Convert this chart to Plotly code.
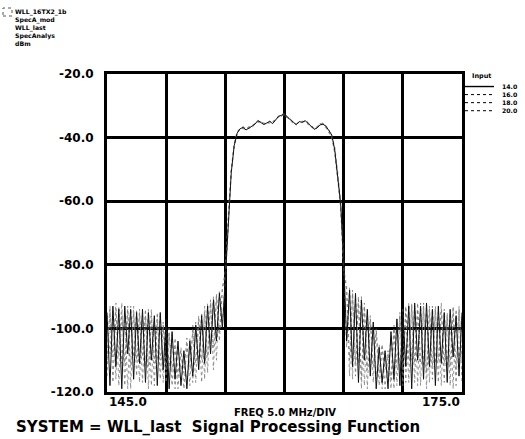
import plotly.graph_objects as go

# ---------------- data ----------------
FREQ_START = 145.0   # MHz
FREQ_STEP = 0.25     # MHz per sample
FREQ = [FREQ_START + FREQ_STEP * i for i in range(121)]

SERIES_NAMES = ["14.0", "16.0", "18.0", "20.0"]

# each series = left sidelobes (145.0-154.75) + passband/skirts (155.0-165.0) + right sidelobes (165.25-175.0)
IN_14_LEFT = [-95, -118, -93, -112, -94, -119, -93, -108, -94, -116, -95, -111, -94, -117, -95, -110,
              -96, -118, -95, -113, -97, -119, -101, -116, -104, -118, -107, -119, -104, -115, -99, -113,
              -96, -111, -93, -108, -91, -104, -89, -100]
IN_14_PASS = [-84, -66, -51, -42.5, -38.6, -37.2, -36.8, -37.6, -37.0, -36.6, -35.8, -34.6, -35.3, -35.9,
              -35.4, -34.9, -35.6, -34.4, -33.3, -33.0, -32.4, -33.6, -34.5, -35.2, -35.9, -35.0, -35.2,
              -34.7, -35.5, -36.3, -37.4, -37.0, -36.0, -35.8, -36.4, -37.8, -39.2, -44, -52, -61, -79]
IN_14_RIGHT = [-104, -88, -112, -89, -117, -91, -110, -94, -115, -98, -119, -106, -117, -107, -119, -101,
               -116, -97, -118, -95, -112, -93, -119, -92, -110, -93, -116, -92, -112, -94, -118, -93,
               -111, -95, -117, -94, -109, -96, -115, -95]

IN_16_LEFT = [-110, -93, -117, -94, -109, -92, -118, -94, -112, -93, -115, -95, -109, -94, -119, -96,
              -111, -95, -116, -98, -113, -100, -118, -103, -115, -106, -119, -105, -112, -101, -117, -97,
              -110, -95, -114, -92, -106, -90, -101, -88]
IN_16_PASS = [-83, -64, -50, -42, -38.3, -37.5, -36.5, -37.2, -36.8, -36.2, -35.5, -34.9, -35.6, -35.4,
              -35.8, -35.1, -35.3, -34.0, -33.6, -32.8, -32.9, -33.2, -34.8, -35.5, -35.6, -35.3, -34.8,
              -35.1, -35.9, -36.1, -37.0, -36.6, -35.6, -35.4, -36.9, -38.2, -40, -45, -53, -62, -81]
IN_16_RIGHT = [-87, -110, -89, -115, -90, -119, -92, -113, -96, -117, -100, -114, -105, -119, -108, -116,
               -100, -118, -96, -113, -94, -117, -92, -111, -94, -118, -92, -114, -93, -116, -94, -110,
               -92, -117, -95, -112, -94, -118, -93, -110]

IN_18_LEFT = [-96, -108, -94, -116, -93, -111, -95, -119, -93, -109, -94, -117, -96, -112, -94, -118,
              -97, -110, -96, -117, -99, -112, -102, -119, -106, -113, -108, -118, -103, -117, -98, -110,
              -95, -116, -92, -105, -90, -110, -88, -98]
IN_18_PASS = [-85, -67, -51, -43, -38.8, -37.0, -37.1, -37.4, -36.5, -36.8, -35.9, -35.0, -34.8, -35.6,
              -35.2, -35.5, -34.9, -34.6, -33.0, -33.3, -32.6, -34.0, -34.2, -35.0, -36.2, -34.9, -35.4,
              -34.5, -35.2, -36.6, -37.1, -36.8, -35.5, -36.0, -36.2, -37.5, -39.5, -43, -51, -60, -78]
IN_18_RIGHT = [-106, -87, -116, -90, -111, -90, -118, -95, -112, -99, -116, -105, -119, -108, -115, -102,
               -119, -98, -113, -94, -117, -92, -110, -93, -118, -92, -112, -94, -117, -93, -111, -95,
               -118, -94, -112, -95, -119, -94, -110, -96]

IN_20_LEFT = [-115, -94, -109, -92, -118, -95, -111, -93, -119, -95, -110, -94, -117, -96, -112, -94,
              -118, -97, -110, -99, -117, -102, -113, -106, -119, -107, -114, -103, -118, -99, -111, -96,
              -117, -93, -109, -91, -113, -89, -104, -87]
IN_20_PASS = [-82, -65, -50, -42, -38.0, -37.3, -36.9, -37.0, -37.2, -36.4, -35.6, -35.2, -35.0, -35.7,
              -35.6, -34.8, -35.4, -34.2, -33.4, -32.7, -32.5, -33.8, -34.4, -35.1, -35.7, -35.1, -35.0,
              -34.9, -35.7, -36.0, -37.2, -36.4, -35.9, -35.6, -36.7, -38.0, -39.8, -44.5, -52.5, -62, -82]
IN_20_RIGHT = [-88, -115, -88, -111, -91, -116, -93, -119, -97, -112, -101, -118, -106, -113, -107, -119,
               -99, -112, -95, -118, -93, -110, -93, -117, -92, -111, -93, -119, -94, -112, -93, -117,
               -94, -111, -96, -118, -93, -113, -94, -117]

SERIES_VALUES = [
    IN_14_LEFT + IN_14_PASS + IN_14_RIGHT,
    IN_16_LEFT + IN_16_PASS + IN_16_RIGHT,
    IN_18_LEFT + IN_18_PASS + IN_18_RIGHT,
    IN_20_LEFT + IN_20_PASS + IN_20_RIGHT,
]

Y_TICKS = [-120, -100, -80, -60, -40, -20]
Y_TICK_LABELS = ["-120.0", "-100.0", "-80.0", "-60.0", "-40.0", "-20.0"]
X_TICKS = [145, 150, 155, 160, 165, 170, 175]
X_END_LABELS = ["145.0", "175.0"]

HEADER_LINES = ["WLL_16TX2_1b", "SpecA_mod", "WLL_last", "SpecAnalys", "dBm"]
LEGEND_TITLE = "Input"

# ---------------- styling ----------------
FONT = "DejaVu Sans"
STYLES = [
    dict(color="#111111", width=1.0, dash="solid"),
    dict(color="#777777", width=0.8, dash="dot"),
    dict(color="#777777", width=0.8, dash="dot"),
    dict(color="#777777", width=0.8, dash="dot"),
]

W, H = 525, 439
L, R, T, B = 107, 63, 74, 47
PW, PH = W - L - R, H - T - B


def px(x):
    return (x - L) / PW


def py(y):
    return (H - B - y) / PH


fig = go.Figure()
# draw dotted traces first so the solid one sits on top
for name, vals, st in list(zip(SERIES_NAMES, SERIES_VALUES, STYLES))[::-1]:
    fig.add_trace(go.Scatter(x=FREQ, y=vals, mode="lines", name=name, line=st, showlegend=False))

fig.update_layout(
    width=W, height=H,
    margin=dict(l=L, r=R, t=T, b=B),
    paper_bgcolor="white", plot_bgcolor="white",
    font=dict(family=FONT, color="black"),
)
fig.update_xaxes(
    range=[145, 175], tickvals=X_TICKS, showticklabels=False,
    showgrid=True, gridcolor="black", gridwidth=2.5, zeroline=False,
    showline=True, mirror=True, linecolor="black", linewidth=3, ticks="",
    layer="above traces",
)
fig.update_yaxes(
    range=[-120, -20], tickvals=Y_TICKS, ticktext=Y_TICK_LABELS,
    tickfont=dict(family=FONT, size=12, weight="bold", color="black"),
    ticklabelstandoff=8,
    showgrid=True, gridcolor="black", gridwidth=2.5, zeroline=False,
    showline=True, mirror=True, linecolor="black", linewidth=3, ticks="",
    layer="above traces",
)

ann = []
# x end labels
ann.append(dict(x=X_TICKS[0], y=0, xref="x", yref="paper", text=X_END_LABELS[0], showarrow=False,
                xanchor="left", yanchor="top", yshift=-1,
                font=dict(family=FONT, size=12, weight="bold")))
ann.append(dict(x=X_TICKS[-1], y=0, xref="x", yref="paper", text=X_END_LABELS[1], showarrow=False,
                xanchor="right", yanchor="top", yshift=-1,
                font=dict(family=FONT, size=12, weight="bold")))
# axis title
ann.append(dict(x=0.5, y=py(412), xref="paper", yref="paper", text="FREQ 5.0 MHz/DIV", showarrow=False,
                xanchor="center", yanchor="middle", font=dict(family=FONT, size=10, weight="bold")))
# bottom caption
ann.append(dict(x=px(14), y=py(427), xref="paper", yref="paper",
                text="SYSTEM = WLL_last  Signal Processing Function", showarrow=False,
                xanchor="left", yanchor="middle", font=dict(family=FONT, size=15, weight="bold")))
# header block (single multi-line text)
ann.append(dict(x=px(14), y=py(7), xref="paper", yref="paper", text="<br>".join(HEADER_LINES),
                showarrow=False, xanchor="left", yanchor="top", align="left", borderpad=0,
                font=dict(family=FONT, size=6.2, weight="bold")))
# legend (manual, compact)
ann.append(dict(x=px(471), y=py(76), xref="paper", yref="paper", text=LEGEND_TITLE, showarrow=False,
                xanchor="left", yanchor="middle", borderpad=0,
                font=dict(family=FONT, size=6.5, weight="bold")))
LEG_FONT = 6.2
LEG_STEP = LEG_FONT * 1.3
LEG_TOP = 82
ann.append(dict(x=px(501), y=py(LEG_TOP), xref="paper", yref="paper", text="<br>".join(SERIES_NAMES),
                showarrow=False, xanchor="left", yanchor="top", align="left", borderpad=0,
                font=dict(family=FONT, size=LEG_FONT, weight="bold")))
shapes = []
for k, st in enumerate(STYLES):
    yy = LEG_TOP + LEG_STEP * (k + 0.5) + 0.5
    shapes.append(dict(type="line", xref="paper", yref="paper", x0=px(465), x1=px(494), y0=py(yy), y1=py(yy),
                       line=dict(color="black", width=1.4 if k == 0 else 1, dash=st["dash"])))
# small dotted box icon near header
shapes.append(dict(type="rect", xref="paper", yref="paper", x0=px(3), x1=px(12), y0=py(16), y1=py(8),
                   line=dict(color="#555", width=1, dash="dot")))

fig.update_layout(annotations=ann, shapes=shapes)
fig.write_html("out.html")
